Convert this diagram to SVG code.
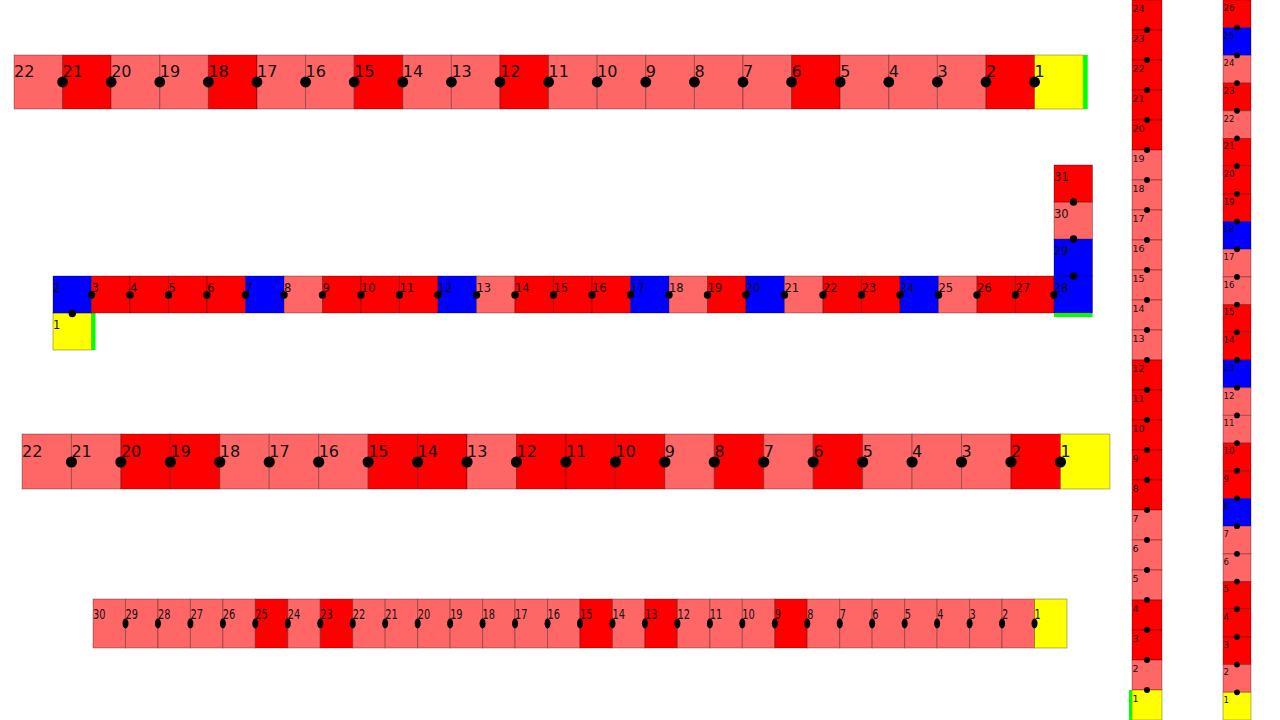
<svg xmlns="http://www.w3.org/2000/svg" width="1280" height="720" viewBox="0 0 1280 720">
<style>
.n rect{stroke:#000;stroke-opacity:.3;stroke-width:1}
.L{fill:#ff6666}.R{fill:#ff0000}.B{fill:#0000ff}.Y{fill:#ffff00}.n rect.G{fill:#00ff00;stroke:none}
text{font-family:"DejaVu Sans","Liberation Sans",sans-serif;fill:#111}
.t1{font-size:16px}.t2{font-size:11.5px}.t4{font-size:13.5px}.t5{font-size:9.5px}.t6{font-size:8.5px}
#connectors circle,#connectors ellipse{fill:#000}
</style>
<rect x="0" y="0" width="1280" height="720" fill="#fff"/>
<g id="row1" class="n t1">
<g id="r1n22"><rect class="L" x="14" y="55" width="48.6" height="54"/><text x="14" y="77">22</text></g>
<g id="r1n21"><rect class="R" x="62.6" y="55" width="48.6" height="54"/><text x="62.6" y="77">21</text></g>
<g id="r1n20"><rect class="L" x="111.2" y="55" width="48.6" height="54"/><text x="111.2" y="77">20</text></g>
<g id="r1n19"><rect class="L" x="159.8" y="55" width="48.6" height="54"/><text x="159.8" y="77">19</text></g>
<g id="r1n18"><rect class="R" x="208.4" y="55" width="48.6" height="54"/><text x="208.4" y="77">18</text></g>
<g id="r1n17"><rect class="L" x="257" y="55" width="48.6" height="54"/><text x="257" y="77">17</text></g>
<g id="r1n16"><rect class="L" x="305.6" y="55" width="48.6" height="54"/><text x="305.6" y="77">16</text></g>
<g id="r1n15"><rect class="R" x="354.2" y="55" width="48.6" height="54"/><text x="354.2" y="77">15</text></g>
<g id="r1n14"><rect class="L" x="402.8" y="55" width="48.6" height="54"/><text x="402.8" y="77">14</text></g>
<g id="r1n13"><rect class="L" x="451.4" y="55" width="48.6" height="54"/><text x="451.4" y="77">13</text></g>
<g id="r1n12"><rect class="R" x="500" y="55" width="48.6" height="54"/><text x="500" y="77">12</text></g>
<g id="r1n11"><rect class="L" x="548.6" y="55" width="48.6" height="54"/><text x="548.6" y="77">11</text></g>
<g id="r1n10"><rect class="L" x="597.2" y="55" width="48.6" height="54"/><text x="597.2" y="77">10</text></g>
<g id="r1n9"><rect class="L" x="645.8" y="55" width="48.6" height="54"/><text x="645.8" y="77">9</text></g>
<g id="r1n8"><rect class="L" x="694.4" y="55" width="48.6" height="54"/><text x="694.4" y="77">8</text></g>
<g id="r1n7"><rect class="L" x="743" y="55" width="48.6" height="54"/><text x="743" y="77">7</text></g>
<g id="r1n6"><rect class="R" x="791.6" y="55" width="48.6" height="54"/><text x="791.6" y="77">6</text></g>
<g id="r1n5"><rect class="L" x="840.2" y="55" width="48.6" height="54"/><text x="840.2" y="77">5</text></g>
<g id="r1n4"><rect class="L" x="888.8" y="55" width="48.6" height="54"/><text x="888.8" y="77">4</text></g>
<g id="r1n3"><rect class="L" x="937.4" y="55" width="48.6" height="54"/><text x="937.4" y="77">3</text></g>
<g id="r1n2"><rect class="R" x="986" y="55" width="48.6" height="54"/><text x="986" y="77">2</text></g>
<g id="r1n1"><rect class="Y" x="1034.6" y="55" width="48.6" height="54"/><rect class="G" x="1083.2" y="55" width="4.5" height="54"/><text x="1034.6" y="77">1</text></g>
</g>
<g id="row2" class="n t2">
<g id="r2n1"><rect class="Y" x="53" y="313" width="38.5" height="37"/><rect class="G" x="91.5" y="313" width="4" height="37"/><text x="53" y="328.5">1</text></g>
<g id="r2n2"><rect class="B" x="53" y="276" width="38.5" height="37"/><text x="53" y="291.5">2</text></g>
<g id="r2n3"><rect class="R" x="91.5" y="276" width="38.5" height="37"/><text x="91.5" y="291.5">3</text></g>
<g id="r2n4"><rect class="R" x="130" y="276" width="38.5" height="37"/><text x="130" y="291.5">4</text></g>
<g id="r2n5"><rect class="R" x="168.5" y="276" width="38.5" height="37"/><text x="168.5" y="291.5">5</text></g>
<g id="r2n6"><rect class="R" x="207" y="276" width="38.5" height="37"/><text x="207" y="291.5">6</text></g>
<g id="r2n7"><rect class="B" x="245.5" y="276" width="38.5" height="37"/><text x="245.5" y="291.5">7</text></g>
<g id="r2n8"><rect class="L" x="284" y="276" width="38.5" height="37"/><text x="284" y="291.5">8</text></g>
<g id="r2n9"><rect class="R" x="322.5" y="276" width="38.5" height="37"/><text x="322.5" y="291.5">9</text></g>
<g id="r2n10"><rect class="R" x="361" y="276" width="38.5" height="37"/><text x="361" y="291.5">10</text></g>
<g id="r2n11"><rect class="R" x="399.5" y="276" width="38.5" height="37"/><text x="399.5" y="291.5">11</text></g>
<g id="r2n12"><rect class="B" x="438" y="276" width="38.5" height="37"/><text x="438" y="291.5">12</text></g>
<g id="r2n13"><rect class="L" x="476.5" y="276" width="38.5" height="37"/><text x="476.5" y="291.5">13</text></g>
<g id="r2n14"><rect class="R" x="515" y="276" width="38.5" height="37"/><text x="515" y="291.5">14</text></g>
<g id="r2n15"><rect class="R" x="553.5" y="276" width="38.5" height="37"/><text x="553.5" y="291.5">15</text></g>
<g id="r2n16"><rect class="R" x="592" y="276" width="38.5" height="37"/><text x="592" y="291.5">16</text></g>
<g id="r2n17"><rect class="B" x="630.5" y="276" width="38.5" height="37"/><text x="630.5" y="291.5">17</text></g>
<g id="r2n18"><rect class="L" x="669" y="276" width="38.5" height="37"/><text x="669" y="291.5">18</text></g>
<g id="r2n19"><rect class="R" x="707.5" y="276" width="38.5" height="37"/><text x="707.5" y="291.5">19</text></g>
<g id="r2n20"><rect class="B" x="746" y="276" width="38.5" height="37"/><text x="746" y="291.5">20</text></g>
<g id="r2n21"><rect class="L" x="784.5" y="276" width="38.5" height="37"/><text x="784.5" y="291.5">21</text></g>
<g id="r2n22"><rect class="R" x="823" y="276" width="38.5" height="37"/><text x="823" y="291.5">22</text></g>
<g id="r2n23"><rect class="R" x="861.5" y="276" width="38.5" height="37"/><text x="861.5" y="291.5">23</text></g>
<g id="r2n24"><rect class="B" x="900" y="276" width="38.5" height="37"/><text x="900" y="291.5">24</text></g>
<g id="r2n25"><rect class="L" x="938.5" y="276" width="38.5" height="37"/><text x="938.5" y="291.5">25</text></g>
<g id="r2n26"><rect class="R" x="977" y="276" width="38.5" height="37"/><text x="977" y="291.5">26</text></g>
<g id="r2n27"><rect class="R" x="1015.5" y="276" width="38.5" height="37"/><text x="1015.5" y="291.5">27</text></g>
<g id="r2n28"><rect class="B" x="1054" y="276" width="38.5" height="37"/><rect class="G" x="1054" y="313" width="38.5" height="4"/><text x="1054" y="291.5">28</text></g>
<g id="r2n29"><rect class="B" x="1054" y="239" width="38.5" height="37"/><text x="1054" y="254.5">29</text></g>
<g id="r2n30"><rect class="L" x="1054" y="202" width="38.5" height="37"/><text x="1054" y="217.5">30</text></g>
<g id="r2n31"><rect class="R" x="1054" y="165" width="38.5" height="37"/><text x="1054" y="180.5">31</text></g>
</g>
<g id="row3" class="n t1">
<g id="r3n22"><rect class="L" x="22" y="434" width="49.45" height="55"/><text x="22" y="457">22</text></g>
<g id="r3n21"><rect class="L" x="71.45" y="434" width="49.45" height="55"/><text x="71.45" y="457">21</text></g>
<g id="r3n20"><rect class="R" x="120.9" y="434" width="49.45" height="55"/><text x="120.9" y="457">20</text></g>
<g id="r3n19"><rect class="R" x="170.35" y="434" width="49.45" height="55"/><text x="170.35" y="457">19</text></g>
<g id="r3n18"><rect class="L" x="219.8" y="434" width="49.45" height="55"/><text x="219.8" y="457">18</text></g>
<g id="r3n17"><rect class="L" x="269.25" y="434" width="49.45" height="55"/><text x="269.25" y="457">17</text></g>
<g id="r3n16"><rect class="L" x="318.7" y="434" width="49.45" height="55"/><text x="318.7" y="457">16</text></g>
<g id="r3n15"><rect class="R" x="368.15" y="434" width="49.45" height="55"/><text x="368.15" y="457">15</text></g>
<g id="r3n14"><rect class="R" x="417.6" y="434" width="49.45" height="55"/><text x="417.6" y="457">14</text></g>
<g id="r3n13"><rect class="L" x="467.05" y="434" width="49.45" height="55"/><text x="467.05" y="457">13</text></g>
<g id="r3n12"><rect class="R" x="516.5" y="434" width="49.45" height="55"/><text x="516.5" y="457">12</text></g>
<g id="r3n11"><rect class="R" x="565.95" y="434" width="49.45" height="55"/><text x="565.95" y="457">11</text></g>
<g id="r3n10"><rect class="R" x="615.4" y="434" width="49.45" height="55"/><text x="615.4" y="457">10</text></g>
<g id="r3n9"><rect class="L" x="664.85" y="434" width="49.45" height="55"/><text x="664.85" y="457">9</text></g>
<g id="r3n8"><rect class="R" x="714.3" y="434" width="49.45" height="55"/><text x="714.3" y="457">8</text></g>
<g id="r3n7"><rect class="L" x="763.75" y="434" width="49.45" height="55"/><text x="763.75" y="457">7</text></g>
<g id="r3n6"><rect class="R" x="813.2" y="434" width="49.45" height="55"/><text x="813.2" y="457">6</text></g>
<g id="r3n5"><rect class="L" x="862.65" y="434" width="49.45" height="55"/><text x="862.65" y="457">5</text></g>
<g id="r3n4"><rect class="L" x="912.1" y="434" width="49.45" height="55"/><text x="912.1" y="457">4</text></g>
<g id="r3n3"><rect class="L" x="961.55" y="434" width="49.45" height="55"/><text x="961.55" y="457">3</text></g>
<g id="r3n2"><rect class="R" x="1011" y="434" width="49.45" height="55"/><text x="1011" y="457">2</text></g>
<g id="r3n1"><rect class="Y" x="1060.45" y="434" width="49.45" height="55"/><text x="1060.45" y="457">1</text></g>
</g>
<g id="row4" class="n t4">
<g id="r4n30"><rect class="L" x="93" y="599" width="32.47" height="49"/><text x="93" y="619" textLength="12.5" lengthAdjust="spacingAndGlyphs">30</text></g>
<g id="r4n29"><rect class="L" x="125.47" y="599" width="32.47" height="49"/><text x="125.47" y="619" textLength="12.5" lengthAdjust="spacingAndGlyphs">29</text></g>
<g id="r4n28"><rect class="L" x="157.93" y="599" width="32.47" height="49"/><text x="157.93" y="619" textLength="12.5" lengthAdjust="spacingAndGlyphs">28</text></g>
<g id="r4n27"><rect class="L" x="190.4" y="599" width="32.47" height="49"/><text x="190.4" y="619" textLength="12.5" lengthAdjust="spacingAndGlyphs">27</text></g>
<g id="r4n26"><rect class="L" x="222.87" y="599" width="32.47" height="49"/><text x="222.87" y="619" textLength="12.5" lengthAdjust="spacingAndGlyphs">26</text></g>
<g id="r4n25"><rect class="R" x="255.33" y="599" width="32.47" height="49"/><text x="255.33" y="619" textLength="12.5" lengthAdjust="spacingAndGlyphs">25</text></g>
<g id="r4n24"><rect class="L" x="287.8" y="599" width="32.47" height="49"/><text x="287.8" y="619" textLength="12.5" lengthAdjust="spacingAndGlyphs">24</text></g>
<g id="r4n23"><rect class="R" x="320.27" y="599" width="32.47" height="49"/><text x="320.27" y="619" textLength="12.5" lengthAdjust="spacingAndGlyphs">23</text></g>
<g id="r4n22"><rect class="L" x="352.73" y="599" width="32.47" height="49"/><text x="352.73" y="619" textLength="12.5" lengthAdjust="spacingAndGlyphs">22</text></g>
<g id="r4n21"><rect class="L" x="385.2" y="599" width="32.47" height="49"/><text x="385.2" y="619" textLength="12.5" lengthAdjust="spacingAndGlyphs">21</text></g>
<g id="r4n20"><rect class="L" x="417.67" y="599" width="32.47" height="49"/><text x="417.67" y="619" textLength="12.5" lengthAdjust="spacingAndGlyphs">20</text></g>
<g id="r4n19"><rect class="L" x="450.13" y="599" width="32.47" height="49"/><text x="450.13" y="619" textLength="12.5" lengthAdjust="spacingAndGlyphs">19</text></g>
<g id="r4n18"><rect class="L" x="482.6" y="599" width="32.47" height="49"/><text x="482.6" y="619" textLength="12.5" lengthAdjust="spacingAndGlyphs">18</text></g>
<g id="r4n17"><rect class="L" x="515.07" y="599" width="32.47" height="49"/><text x="515.07" y="619" textLength="12.5" lengthAdjust="spacingAndGlyphs">17</text></g>
<g id="r4n16"><rect class="L" x="547.53" y="599" width="32.47" height="49"/><text x="547.53" y="619" textLength="12.5" lengthAdjust="spacingAndGlyphs">16</text></g>
<g id="r4n15"><rect class="R" x="580" y="599" width="32.47" height="49"/><text x="580" y="619" textLength="12.5" lengthAdjust="spacingAndGlyphs">15</text></g>
<g id="r4n14"><rect class="L" x="612.47" y="599" width="32.47" height="49"/><text x="612.47" y="619" textLength="12.5" lengthAdjust="spacingAndGlyphs">14</text></g>
<g id="r4n13"><rect class="R" x="644.93" y="599" width="32.47" height="49"/><text x="644.93" y="619" textLength="12.5" lengthAdjust="spacingAndGlyphs">13</text></g>
<g id="r4n12"><rect class="L" x="677.4" y="599" width="32.47" height="49"/><text x="677.4" y="619" textLength="12.5" lengthAdjust="spacingAndGlyphs">12</text></g>
<g id="r4n11"><rect class="L" x="709.87" y="599" width="32.47" height="49"/><text x="709.87" y="619" textLength="12.5" lengthAdjust="spacingAndGlyphs">11</text></g>
<g id="r4n10"><rect class="L" x="742.33" y="599" width="32.47" height="49"/><text x="742.33" y="619" textLength="12.5" lengthAdjust="spacingAndGlyphs">10</text></g>
<g id="r4n9"><rect class="R" x="774.8" y="599" width="32.47" height="49"/><text x="774.8" y="619" textLength="6.2" lengthAdjust="spacingAndGlyphs">9</text></g>
<g id="r4n8"><rect class="L" x="807.27" y="599" width="32.47" height="49"/><text x="807.27" y="619" textLength="6.2" lengthAdjust="spacingAndGlyphs">8</text></g>
<g id="r4n7"><rect class="L" x="839.73" y="599" width="32.47" height="49"/><text x="839.73" y="619" textLength="6.2" lengthAdjust="spacingAndGlyphs">7</text></g>
<g id="r4n6"><rect class="L" x="872.2" y="599" width="32.47" height="49"/><text x="872.2" y="619" textLength="6.2" lengthAdjust="spacingAndGlyphs">6</text></g>
<g id="r4n5"><rect class="L" x="904.67" y="599" width="32.47" height="49"/><text x="904.67" y="619" textLength="6.2" lengthAdjust="spacingAndGlyphs">5</text></g>
<g id="r4n4"><rect class="L" x="937.13" y="599" width="32.47" height="49"/><text x="937.13" y="619" textLength="6.2" lengthAdjust="spacingAndGlyphs">4</text></g>
<g id="r4n3"><rect class="L" x="969.6" y="599" width="32.47" height="49"/><text x="969.6" y="619" textLength="6.2" lengthAdjust="spacingAndGlyphs">3</text></g>
<g id="r4n2"><rect class="L" x="1002.07" y="599" width="32.47" height="49"/><text x="1002.07" y="619" textLength="6.2" lengthAdjust="spacingAndGlyphs">2</text></g>
<g id="r4n1"><rect class="Y" x="1034.53" y="599" width="32.47" height="49"/><text x="1034.53" y="619" textLength="6.2" lengthAdjust="spacingAndGlyphs">1</text></g>
</g>
<g id="col1" class="n t5">
<g id="c1n24"><rect class="R" x="1132" y="0" width="30" height="30"/><text x="1132.5" y="11.5">24</text></g>
<g id="c1n23"><rect class="R" x="1132" y="30" width="30" height="30"/><text x="1132.5" y="41.5">23</text></g>
<g id="c1n22"><rect class="R" x="1132" y="60" width="30" height="30"/><text x="1132.5" y="71.5">22</text></g>
<g id="c1n21"><rect class="R" x="1132" y="90" width="30" height="30"/><text x="1132.5" y="101.5">21</text></g>
<g id="c1n20"><rect class="R" x="1132" y="120" width="30" height="30"/><text x="1132.5" y="131.5">20</text></g>
<g id="c1n19"><rect class="L" x="1132" y="150" width="30" height="30"/><text x="1132.5" y="161.5">19</text></g>
<g id="c1n18"><rect class="L" x="1132" y="180" width="30" height="30"/><text x="1132.5" y="191.5">18</text></g>
<g id="c1n17"><rect class="L" x="1132" y="210" width="30" height="30"/><text x="1132.5" y="221.5">17</text></g>
<g id="c1n16"><rect class="L" x="1132" y="240" width="30" height="30"/><text x="1132.5" y="251.5">16</text></g>
<g id="c1n15"><rect class="L" x="1132" y="270" width="30" height="30"/><text x="1132.5" y="281.5">15</text></g>
<g id="c1n14"><rect class="L" x="1132" y="300" width="30" height="30"/><text x="1132.5" y="311.5">14</text></g>
<g id="c1n13"><rect class="L" x="1132" y="330" width="30" height="30"/><text x="1132.5" y="341.5">13</text></g>
<g id="c1n12"><rect class="R" x="1132" y="360" width="30" height="30"/><text x="1132.5" y="371.5">12</text></g>
<g id="c1n11"><rect class="R" x="1132" y="390" width="30" height="30"/><text x="1132.5" y="401.5">11</text></g>
<g id="c1n10"><rect class="R" x="1132" y="420" width="30" height="30"/><text x="1132.5" y="431.5">10</text></g>
<g id="c1n9"><rect class="R" x="1132" y="450" width="30" height="30"/><text x="1132.5" y="461.5">9</text></g>
<g id="c1n8"><rect class="R" x="1132" y="480" width="30" height="30"/><text x="1132.5" y="491.5">8</text></g>
<g id="c1n7"><rect class="L" x="1132" y="510" width="30" height="30"/><text x="1132.5" y="521.5">7</text></g>
<g id="c1n6"><rect class="L" x="1132" y="540" width="30" height="30"/><text x="1132.5" y="551.5">6</text></g>
<g id="c1n5"><rect class="L" x="1132" y="570" width="30" height="30"/><text x="1132.5" y="581.5">5</text></g>
<g id="c1n4"><rect class="R" x="1132" y="600" width="30" height="30"/><text x="1132.5" y="611.5">4</text></g>
<g id="c1n3"><rect class="R" x="1132" y="630" width="30" height="30"/><text x="1132.5" y="641.5">3</text></g>
<g id="c1n2"><rect class="L" x="1132" y="660" width="30" height="30"/><text x="1132.5" y="671.5">2</text></g>
<g id="c1n1"><rect class="Y" x="1132" y="690" width="30" height="30"/><rect class="G" x="1129" y="690" width="3" height="30"/><text x="1132.5" y="701.5">1</text></g>
</g>
<g id="col2" class="n t6">
<g id="c2n26"><rect class="R" x="1223" y="0" width="28" height="27.69"/><text x="1223.5" y="10.8">26</text></g>
<g id="c2n25"><rect class="B" x="1223" y="27.69" width="28" height="27.69"/><text x="1223.5" y="38.5">25</text></g>
<g id="c2n24"><rect class="L" x="1223" y="55.38" width="28" height="27.69"/><text x="1223.5" y="66.2">24</text></g>
<g id="c2n23"><rect class="R" x="1223" y="83.08" width="28" height="27.69"/><text x="1223.5" y="93.9">23</text></g>
<g id="c2n22"><rect class="L" x="1223" y="110.77" width="28" height="27.69"/><text x="1223.5" y="121.6">22</text></g>
<g id="c2n21"><rect class="R" x="1223" y="138.46" width="28" height="27.69"/><text x="1223.5" y="149.3">21</text></g>
<g id="c2n20"><rect class="R" x="1223" y="166.15" width="28" height="27.69"/><text x="1223.5" y="177">20</text></g>
<g id="c2n19"><rect class="R" x="1223" y="193.85" width="28" height="27.69"/><text x="1223.5" y="204.7">19</text></g>
<g id="c2n18"><rect class="B" x="1223" y="221.54" width="28" height="27.69"/><text x="1223.5" y="232.3">18</text></g>
<g id="c2n17"><rect class="L" x="1223" y="249.23" width="28" height="27.69"/><text x="1223.5" y="260">17</text></g>
<g id="c2n16"><rect class="L" x="1223" y="276.92" width="28" height="27.69"/><text x="1223.5" y="287.7">16</text></g>
<g id="c2n15"><rect class="R" x="1223" y="304.62" width="28" height="27.69"/><text x="1223.5" y="315.4">15</text></g>
<g id="c2n14"><rect class="R" x="1223" y="332.31" width="28" height="27.69"/><text x="1223.5" y="343.1">14</text></g>
<g id="c2n13"><rect class="B" x="1223" y="360" width="28" height="27.69"/><text x="1223.5" y="370.8">13</text></g>
<g id="c2n12"><rect class="L" x="1223" y="387.69" width="28" height="27.69"/><text x="1223.5" y="398.5">12</text></g>
<g id="c2n11"><rect class="L" x="1223" y="415.38" width="28" height="27.69"/><text x="1223.5" y="426.2">11</text></g>
<g id="c2n10"><rect class="R" x="1223" y="443.08" width="28" height="27.69"/><text x="1223.5" y="453.9">10</text></g>
<g id="c2n9"><rect class="R" x="1223" y="470.77" width="28" height="27.69"/><text x="1223.5" y="481.6">9</text></g>
<g id="c2n8"><rect class="B" x="1223" y="498.46" width="28" height="27.69"/><text x="1223.5" y="509.3">8</text></g>
<g id="c2n7"><rect class="L" x="1223" y="526.15" width="28" height="27.69"/><text x="1223.5" y="537">7</text></g>
<g id="c2n6"><rect class="L" x="1223" y="553.85" width="28" height="27.69"/><text x="1223.5" y="564.7">6</text></g>
<g id="c2n5"><rect class="R" x="1223" y="581.54" width="28" height="27.69"/><text x="1223.5" y="592.3">5</text></g>
<g id="c2n4"><rect class="R" x="1223" y="609.23" width="28" height="27.69"/><text x="1223.5" y="620">4</text></g>
<g id="c2n3"><rect class="R" x="1223" y="636.92" width="28" height="27.69"/><text x="1223.5" y="647.7">3</text></g>
<g id="c2n2"><rect class="L" x="1223" y="664.62" width="28" height="27.69"/><text x="1223.5" y="675.4">2</text></g>
<g id="c2n1"><rect class="Y" x="1223" y="692.31" width="28" height="27.69"/><text x="1223.5" y="703.1">1</text></g>
</g>
<g id="connectors">
<circle cx="62.6" cy="82" r="5.4"/><circle cx="111.2" cy="82" r="5.4"/><circle cx="159.8" cy="82" r="5.4"/><circle cx="208.4" cy="82" r="5.4"/><circle cx="257" cy="82" r="5.4"/><circle cx="305.6" cy="82" r="5.4"/><circle cx="354.2" cy="82" r="5.4"/><circle cx="402.8" cy="82" r="5.4"/><circle cx="451.4" cy="82" r="5.4"/><circle cx="500" cy="82" r="5.4"/><circle cx="548.6" cy="82" r="5.4"/><circle cx="597.2" cy="82" r="5.4"/><circle cx="645.8" cy="82" r="5.4"/><circle cx="694.4" cy="82" r="5.4"/><circle cx="743" cy="82" r="5.4"/><circle cx="791.6" cy="82" r="5.4"/><circle cx="840.2" cy="82" r="5.4"/><circle cx="888.8" cy="82" r="5.4"/><circle cx="937.4" cy="82" r="5.4"/><circle cx="986" cy="82" r="5.4"/><circle cx="1034.6" cy="82" r="5.4"/>
<circle cx="72.3" cy="313.5" r="3.7"/><circle cx="91.5" cy="295" r="3.7"/><circle cx="130" cy="295" r="3.7"/><circle cx="168.5" cy="295" r="3.7"/><circle cx="207" cy="295" r="3.7"/><circle cx="245.5" cy="295" r="3.7"/><circle cx="284" cy="295" r="3.7"/><circle cx="322.5" cy="295" r="3.7"/><circle cx="361" cy="295" r="3.7"/><circle cx="399.5" cy="295" r="3.7"/><circle cx="438" cy="295" r="3.7"/><circle cx="476.5" cy="295" r="3.7"/><circle cx="515" cy="295" r="3.7"/><circle cx="553.5" cy="295" r="3.7"/><circle cx="592" cy="295" r="3.7"/><circle cx="630.5" cy="295" r="3.7"/><circle cx="669" cy="295" r="3.7"/><circle cx="707.5" cy="295" r="3.7"/><circle cx="746" cy="295" r="3.7"/><circle cx="784.5" cy="295" r="3.7"/><circle cx="823" cy="295" r="3.7"/><circle cx="861.5" cy="295" r="3.7"/><circle cx="900" cy="295" r="3.7"/><circle cx="938.5" cy="295" r="3.7"/><circle cx="977" cy="295" r="3.7"/><circle cx="1015.5" cy="295" r="3.7"/><circle cx="1054" cy="295" r="3.7"/><circle cx="1073.5" cy="276" r="3.7"/><circle cx="1073.5" cy="239" r="3.7"/><circle cx="1073.5" cy="202" r="3.7"/>
<circle cx="71.45" cy="462" r="5.6"/><circle cx="120.9" cy="462" r="5.6"/><circle cx="170.35" cy="462" r="5.6"/><circle cx="219.8" cy="462" r="5.6"/><circle cx="269.25" cy="462" r="5.6"/><circle cx="318.7" cy="462" r="5.6"/><circle cx="368.15" cy="462" r="5.6"/><circle cx="417.6" cy="462" r="5.6"/><circle cx="467.05" cy="462" r="5.6"/><circle cx="516.5" cy="462" r="5.6"/><circle cx="565.95" cy="462" r="5.6"/><circle cx="615.4" cy="462" r="5.6"/><circle cx="664.85" cy="462" r="5.6"/><circle cx="714.3" cy="462" r="5.6"/><circle cx="763.75" cy="462" r="5.6"/><circle cx="813.2" cy="462" r="5.6"/><circle cx="862.65" cy="462" r="5.6"/><circle cx="912.1" cy="462" r="5.6"/><circle cx="961.55" cy="462" r="5.6"/><circle cx="1011" cy="462" r="5.6"/><circle cx="1060.45" cy="462" r="5.6"/>
<ellipse cx="125.47" cy="623.5" rx="3" ry="5"/><ellipse cx="157.93" cy="623.5" rx="3" ry="5"/><ellipse cx="190.4" cy="623.5" rx="3" ry="5"/><ellipse cx="222.87" cy="623.5" rx="3" ry="5"/><ellipse cx="255.33" cy="623.5" rx="3" ry="5"/><ellipse cx="287.8" cy="623.5" rx="3" ry="5"/><ellipse cx="320.27" cy="623.5" rx="3" ry="5"/><ellipse cx="352.73" cy="623.5" rx="3" ry="5"/><ellipse cx="385.2" cy="623.5" rx="3" ry="5"/><ellipse cx="417.67" cy="623.5" rx="3" ry="5"/><ellipse cx="450.13" cy="623.5" rx="3" ry="5"/><ellipse cx="482.6" cy="623.5" rx="3" ry="5"/><ellipse cx="515.07" cy="623.5" rx="3" ry="5"/><ellipse cx="547.53" cy="623.5" rx="3" ry="5"/><ellipse cx="580" cy="623.5" rx="3" ry="5"/><ellipse cx="612.47" cy="623.5" rx="3" ry="5"/><ellipse cx="644.93" cy="623.5" rx="3" ry="5"/><ellipse cx="677.4" cy="623.5" rx="3" ry="5"/><ellipse cx="709.87" cy="623.5" rx="3" ry="5"/><ellipse cx="742.33" cy="623.5" rx="3" ry="5"/><ellipse cx="774.8" cy="623.5" rx="3" ry="5"/><ellipse cx="807.27" cy="623.5" rx="3" ry="5"/><ellipse cx="839.73" cy="623.5" rx="3" ry="5"/><ellipse cx="872.2" cy="623.5" rx="3" ry="5"/><ellipse cx="904.67" cy="623.5" rx="3" ry="5"/><ellipse cx="937.13" cy="623.5" rx="3" ry="5"/><ellipse cx="969.6" cy="623.5" rx="3" ry="5"/><ellipse cx="1002.07" cy="623.5" rx="3" ry="5"/><ellipse cx="1034.53" cy="623.5" rx="3" ry="5"/>
<circle cx="1147" cy="30" r="3"/><circle cx="1147" cy="60" r="3"/><circle cx="1147" cy="90" r="3"/><circle cx="1147" cy="120" r="3"/><circle cx="1147" cy="150" r="3"/><circle cx="1147" cy="180" r="3"/><circle cx="1147" cy="210" r="3"/><circle cx="1147" cy="240" r="3"/><circle cx="1147" cy="270" r="3"/><circle cx="1147" cy="300" r="3"/><circle cx="1147" cy="330" r="3"/><circle cx="1147" cy="360" r="3"/><circle cx="1147" cy="390" r="3"/><circle cx="1147" cy="420" r="3"/><circle cx="1147" cy="450" r="3"/><circle cx="1147" cy="480" r="3"/><circle cx="1147" cy="510" r="3"/><circle cx="1147" cy="540" r="3"/><circle cx="1147" cy="570" r="3"/><circle cx="1147" cy="600" r="3"/><circle cx="1147" cy="630" r="3"/><circle cx="1147" cy="660" r="3"/><circle cx="1147" cy="690" r="3"/>
<circle cx="1237" cy="27.69" r="2.9"/><circle cx="1237" cy="55.38" r="2.9"/><circle cx="1237" cy="83.08" r="2.9"/><circle cx="1237" cy="110.77" r="2.9"/><circle cx="1237" cy="138.46" r="2.9"/><circle cx="1237" cy="166.15" r="2.9"/><circle cx="1237" cy="193.85" r="2.9"/><circle cx="1237" cy="221.54" r="2.9"/><circle cx="1237" cy="249.23" r="2.9"/><circle cx="1237" cy="276.92" r="2.9"/><circle cx="1237" cy="304.62" r="2.9"/><circle cx="1237" cy="332.31" r="2.9"/><circle cx="1237" cy="360" r="2.9"/><circle cx="1237" cy="387.69" r="2.9"/><circle cx="1237" cy="415.38" r="2.9"/><circle cx="1237" cy="443.08" r="2.9"/><circle cx="1237" cy="470.77" r="2.9"/><circle cx="1237" cy="498.46" r="2.9"/><circle cx="1237" cy="526.15" r="2.9"/><circle cx="1237" cy="553.85" r="2.9"/><circle cx="1237" cy="581.54" r="2.9"/><circle cx="1237" cy="609.23" r="2.9"/><circle cx="1237" cy="636.92" r="2.9"/><circle cx="1237" cy="664.62" r="2.9"/><circle cx="1237" cy="692.31" r="2.9"/>
</g>
</svg>
